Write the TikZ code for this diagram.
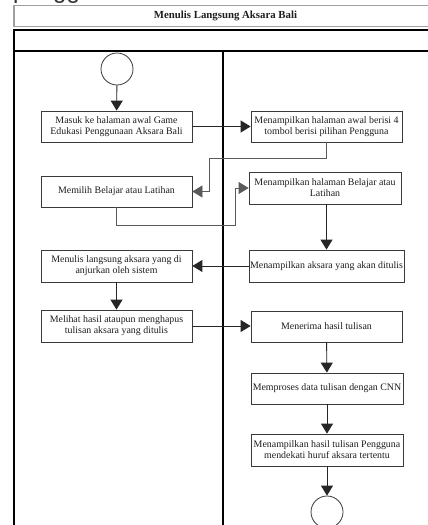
\documentclass[tikz,border=0pt]{standalone}
\usepackage{fontspec}
\setmainfont{Liberation Serif}
\newfontfamily\headsans{Liberation Sans}
\usetikzlibrary{arrows.meta}
\definecolor{boxline}{HTML}{3A3A3A}
\definecolor{titleline}{HTML}{A0A0A0}
\definecolor{txt}{HTML}{1E1E1E}
\definecolor{elbow}{HTML}{5A5A5A}
\tikzset{
  actbox/.style={draw=boxline, line width=0.8pt, fill=white, minimum width=151pt,
    minimum height=31pt, inner sep=1pt, align=center, text=txt,
    font=\fontsize{9.9}{11}\selectfont},
  terminal/.style={draw=boxline, line width=0.8pt, circle, minimum size=32pt, inner sep=0pt},
  flow/.style={draw=black!85, line width=0.9pt, -{Triangle[width=12pt,length=10pt]}},
  bentflow/.style={draw=elbow, line width=0.8pt, -{Triangle[width=12pt,length=10pt]}},
  lane/.style={draw=black, line width=1.6pt}
}
\begin{document}
\begin{tikzpicture}[x=1pt, y=-1pt]
\clip (0,0) rectangle (428,525);
\fill[white] (0,0) rectangle (428,525);

% caption above the diagram, running off the top edge
\node[anchor=base west, inner sep=0pt, font=\headsans\fontsize{24}{24}\selectfont, text=black!80]
  (remnant) at (13,-2) {pengg};

% title bar
\draw[titleline, line width=1.2pt] (14,5.5) rectangle (445,26.5);
\node[font=\bfseries\fontsize{10.8}{12}\selectfont, text=txt] (title) at (225.5,16) {Menulis Langsung Aksara Bali};

% swimlane frame
\draw[lane] (14,30) rectangle (445,540);
\draw[lane] (14,51) -- (445,51);
\draw[lane] (223,51) -- (223,540);

% left lane
\node[terminal] (start) at (117,69) {};
\node[actbox] (b1) at (116.5,126.5) {Masuk ke halaman awal Game\\Edukasi Penggunaan Aksara Bali};
\node[actbox] (b2) at (116.5,191.5) {Memilih Belajar atau Latihan};
\node[actbox, minimum height=32pt] (b3) at (116.5,266) {Menulis langsung aksara yang di\\anjurkan oleh sistem};
\node[actbox, minimum height=32pt] (b4) at (116.5,326) {Melihat hasil ataupun menghapus\\tulisan aksara yang ditulis};

% right lane
\node[actbox] (rA) at (326.5,126.5) {Menampilkan halaman awal berisi 4\\tombol berisi pilihan Pengguna};
\node[actbox, minimum width=152pt, minimum height=32pt] (rB) at (325,188) {Menampilkan halaman Belajar atau\\Latihan};
\node[actbox, minimum height=32pt] (rC) at (326.5,266) {Menampilkan aksara yang akan ditulis};
\node[actbox] (rD) at (326.5,326.5) {Menerima hasil tulisan};
\node[actbox, minimum width=152pt] (rE) at (327,388.5) {Memproses data tulisan dengan CNN};
\node[actbox, minimum width=152pt, minimum height=32pt] (rF) at (327,450) {Menampilkan hasil tulisan Pengguna\\mendekati huruf aksara tertentu};
\node[terminal] (finish) at (327,512) {};

% bend points of the routed connectors
\coordinate (e1) at (209,158);
\coordinate (e2) at (235,225);

% connectors
\draw[flow] (start) -- (b1);
\draw[flow] (b1.east) -- (rA.west);
\draw[bentflow] (rA.south) |- (e1) |- (b2.east);
\draw[bentflow] (b2.south) |- (e2) |- (rB.west);
\draw[flow] (rB.south -| rC.north) -- (rC.north);
\draw[flow] (rC.west) -- (b3.east);
\draw[flow] (b3) -- (b4);
\draw[flow] (b4.east) -- (b4.east -| rD.west);
\draw[flow] (rD) -- (rE);
\draw[flow] (rE) -- (rF);
\draw[flow] (rF) -- (finish);
\end{tikzpicture}
\end{document}
